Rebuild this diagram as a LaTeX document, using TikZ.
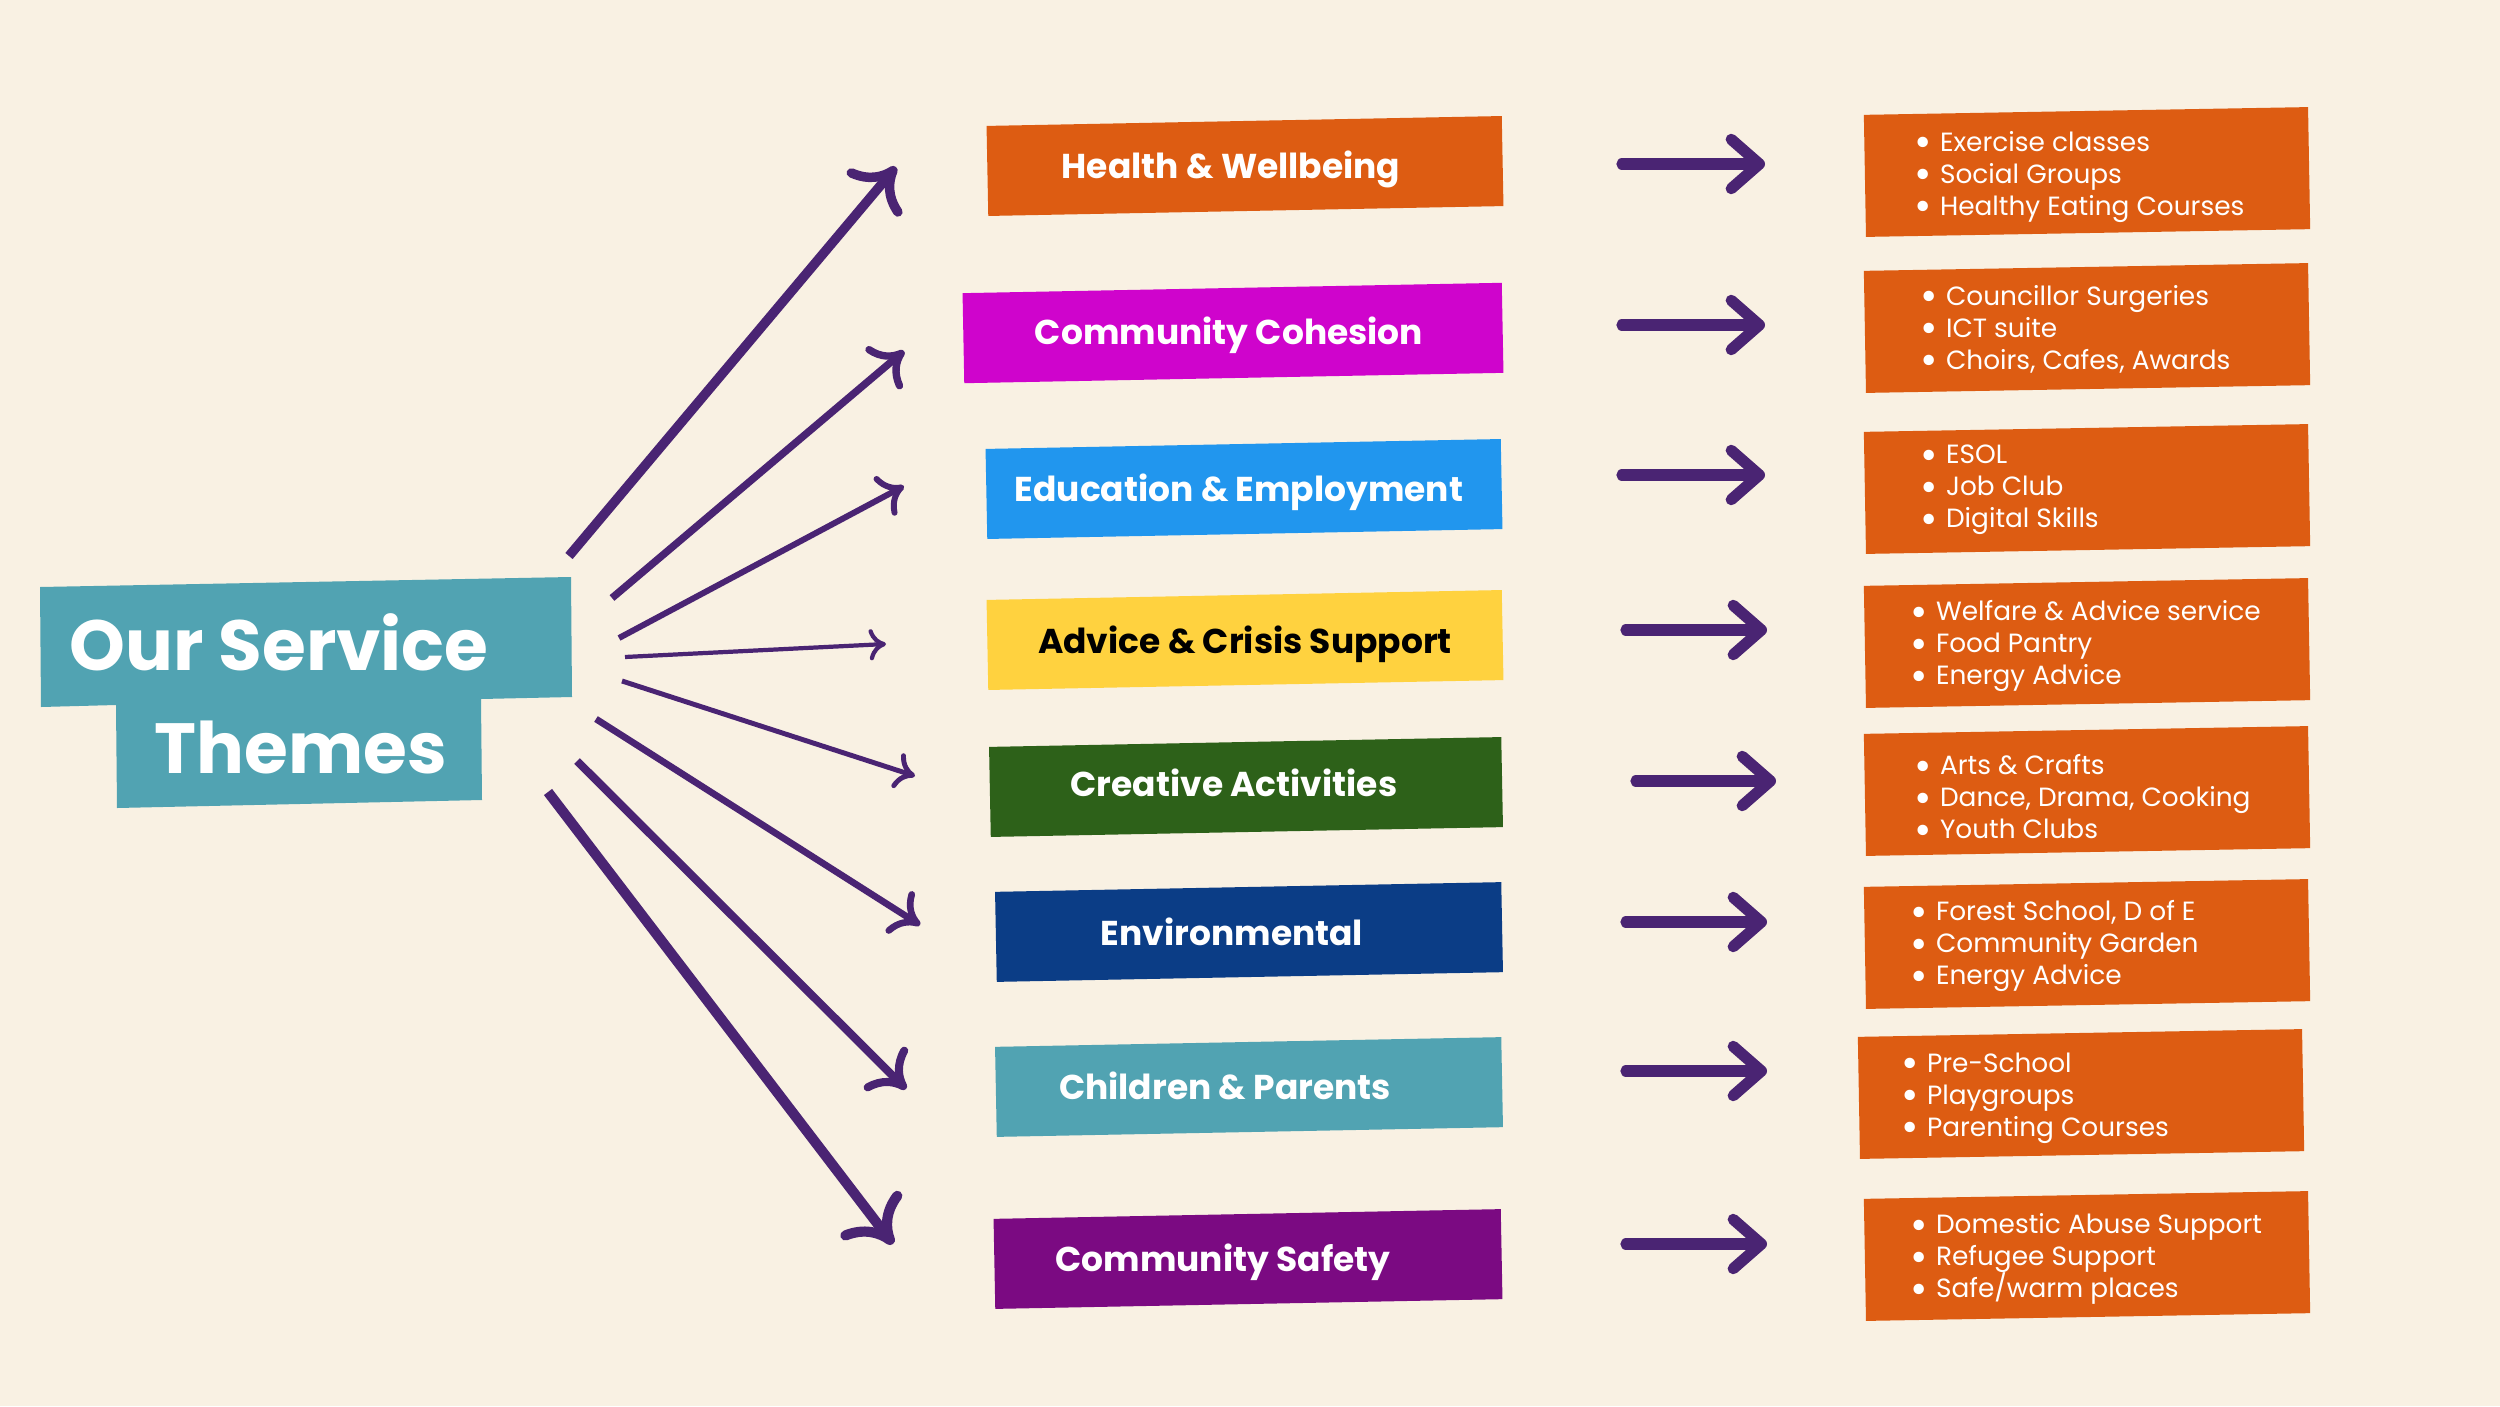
\documentclass[tikz,border=0pt]{standalone}
\usepackage{fontspec}
\setmainfont{Poppins}
\usepackage{tikz}
\usepackage{xcolor}
\usetikzlibrary{arrows.meta,calc}

\definecolor{bgc}{HTML}{F9F1E3}
\definecolor{arrowc}{HTML}{4A2473}
\definecolor{orangec}{HTML}{DD5C12}
\definecolor{magentac}{HTML}{CF04CC}
\definecolor{bluec}{HTML}{2196EE}
\definecolor{yellowc}{HTML}{FFD23F}
\definecolor{greenc}{HTML}{2D6119}
\definecolor{navyc}{HTML}{0B3D86}
\definecolor{tealc}{HTML}{51A3B2}
\definecolor{purplec}{HTML}{7B0A82}

\newcommand{\bul}{\makebox[7.2pt][l]{\raisebox{-0.38ex}[0pt][0pt]{\scalebox{1.6}{\textbullet}}}}

\begin{document}
\begin{tikzpicture}[x=0.01cm,y=0.01cm,
  tbox/.style={minimum width=5.15cm,minimum height=0.9cm,inner sep=0pt,rotate=1.1},
  tlabel/.style={text=white,font=\bfseries\fontsize{9.8}{12}\selectfont,text height=6.9pt,text depth=0pt,inner sep=0pt},
  lbox/.style={fill=orangec,minimum width=4.44cm,minimum height=1.22cm,inner sep=0pt,rotate=1},
  ltext/.style={anchor=west,text=white,align=left,inner sep=0pt,font=\fontsize{7.5}{9.1}\selectfont},
  fan/.style={draw=arrowc,line width=#1,-{Computer Modern Rightarrow[length=0pt 4,width=0pt 7.4]}},
  rarr/.style={draw=arrowc,line width=3.2pt,line cap=round,-{Straight Barb[length=8pt,width=14pt,line join=round,line cap=round]}}]
\useasboundingbox (0,0) rectangle (2500,-1406);
\fill[bgc] (0,0) rectangle (2500,-1406);

% title
\fill[tealc] (40,-587) -- (571,-577) -- (572,-697) -- (481,-699) -- (482,-800)
  -- (117,-808) -- (116,-705) -- (41,-707) -- cycle;
\node[anchor=base,text=white,inner sep=0pt,font=\bfseries\fontsize{20.2}{24}\selectfont] (our) at (279,-670) {Our Service};
\node[anchor=base,text=white,inner sep=0pt,font=\bfseries\fontsize{20.2}{24}\selectfont] (themes) at (301,-773) {Themes};

% themes
\node[tbox,fill=orangec] (t1) at (1245,-166) {};
\node[tlabel] at (1231,-166) {Health \& Wellbeing};
\node[tbox,fill=magentac,minimum width=5.39cm] (t2) at (1233,-333) {};
\node[tlabel] at (1229,-332) {Community Cohesion};
\node[tbox,fill=bluec] (t3) at (1244,-489) {};
\node[tlabel] at (1239,-489) {Education \& Employment};
\node[tbox,fill=yellowc] (t4) at (1245,-640) {};
\node[tlabel,text=black] at (1245,-641) {Advice \& Crisis Support};
\node[tbox,fill=greenc,minimum width=5.12cm] (t5) at (1246,-787) {};
\node[tlabel] at (1234,-784) {Creative Activities};
\node[tbox,fill=navyc,minimum width=5.06cm] (t6) at (1249,-932) {};
\node[tlabel] at (1232,-933) {Environmental};
\node[tbox,fill=tealc,minimum width=5.06cm] (t7) at (1249,-1087) {};
\node[tlabel] at (1225,-1087) {Children \& Parents};
\node[tbox,fill=purplec,minimum width=5.07cm] (t8) at (1248,-1259) {};
\node[tlabel] at (1223,-1259) {Community Safety};

% lists
\node[lbox] (l1) at (2087,-172) {};
\node[ltext] at (1914,-177) {\bul Exercise classes\\\bul Social Groups\\\bul Healthy Eating Courses};
\node[lbox] (l2) at (2087,-328) {};
\node[ltext] at (1920,-329) {\bul Councillor Surgeries\\\bul ICT suite\\\bul Choirs, Cafes, Awards};
\node[lbox] (l3) at (2087,-489) {};
\node[ltext] at (1920,-490) {\bul ESOL\\\bul Job Club\\\bul Digital Skills};
\node[lbox] (l4) at (2087,-643) {};
\node[ltext] at (1910,-646) {\bul Welfare \& Advice service\\\bul Food Pantry\\\bul Energy Advice};
\node[lbox] (l5) at (2087,-791) {};
\node[ltext] at (1914,-797) {\bul Arts \& Crafts\\\bul Dance, Drama, Cooking\\\bul Youth Clubs};
\node[lbox] (l6) at (2087,-944) {};
\node[ltext] at (1910,-946) {\bul Forest School, D of E\\\bul Community Garden\\\bul Energy Advice};
\node[lbox] (l7) at (2081,-1094) {};
\node[ltext] at (1901,-1098) {\bul Pre-School\\\bul Playgroups\\\bul Parenting Courses};
\node[lbox] (l8) at (2087,-1256) {};
\node[ltext] at (1910,-1259) {\bul Domestic Abuse Support\\\bul Refugee Support\\\bul Safe/warm places};

% fan of arrows
\coordinate (f1) at (569,-556); \coordinate (g1) at (896,-167);
\coordinate (f2) at (612,-598); \coordinate (g2) at (904,-351);
\coordinate (f3) at (619,-638); \coordinate (g3) at (904,-486);
\coordinate (f4) at (625,-657); \coordinate (g4) at (886,-644);
\coordinate (f5) at (622,-681); \coordinate (g5) at (915,-776);
\coordinate (f6) at (596,-719); \coordinate (g6) at (920,-925);
\coordinate (f7) at (577,-761); \coordinate (g7) at (906,-1089);
\coordinate (f8) at (548,-792); \coordinate (g8) at (893,-1244);
\draw[fan=2.7pt] (f1) -- (g1);
\draw[fan=2.1pt] (f2) -- (g2);
\draw[fan=1.7pt] (f3) -- (g3);
\draw[fan=1.2pt] (f4) -- (g4);
\draw[fan=1.4pt] (f5) -- (g5);
\draw[fan=1.9pt] (f6) -- (g6);
\draw[fan=2.3pt] (f7) -- (g7);
\draw[fan=2.9pt] (f8) -- (g8);

% short arrows
\coordinate (a1) at (1622,-164); \coordinate (b1) at (1765,-164);
\coordinate (a2) at (1622,-325); \coordinate (b2) at (1765,-325);
\coordinate (a3) at (1622,-475); \coordinate (b3) at (1765,-475);
\coordinate (a4) at (1626,-630); \coordinate (b4) at (1767,-630);
\coordinate (a5) at (1636,-781); \coordinate (b5) at (1776,-781);
\coordinate (a6) at (1626,-922); \coordinate (b6) at (1767,-922);
\coordinate (a7) at (1626,-1071); \coordinate (b7) at (1767,-1071);
\coordinate (a8) at (1626,-1244); \coordinate (b8) at (1767,-1244);
\draw[rarr] (a1) -- (b1);
\draw[rarr] (a2) -- (b2);
\draw[rarr] (a3) -- (b3);
\draw[rarr] (a4) -- (b4);
\draw[rarr] (a5) -- (b5);
\draw[rarr] (a6) -- (b6);
\draw[rarr] (a7) -- (b7);
\draw[rarr] (a8) -- (b8);
\end{tikzpicture}
\end{document}
